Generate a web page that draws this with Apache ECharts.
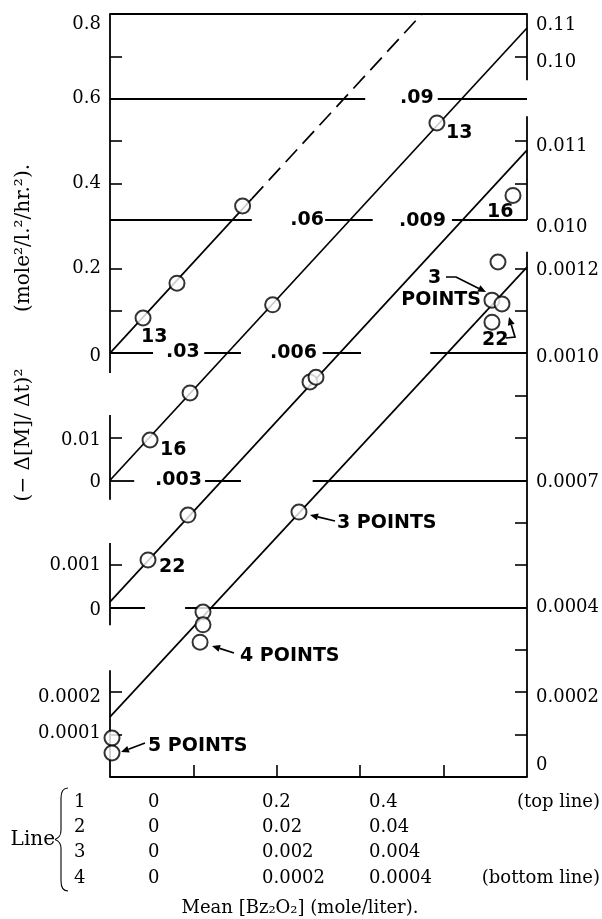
<!DOCTYPE html>
<html><head><meta charset="utf-8">
<script src="https://cdn.jsdelivr.net/npm/echarts@6/dist/echarts.min.js"></script>
<style>html,body{margin:0;padding:0;background:#fff}#c{width:602px;height:919px}</style>
</head><body><div id="c"></div>
<script>
// ---------------- DATA (x in line-1 units of mean [Bz2O2]) ----------------
const xTicks = [0.1, 0.2, 0.3, 0.4];

// Line 1 (top line), rate in (mole²/l.²/hr.²)
const line1Fit    = [[0, 0], [0.170, 0.364]];
const line1Extrap = [[0.170, 0.364], [0.374, 0.8]];
const line1Pts    = [[0.0396, 0.0828], [0.0803, 0.165], [0.159, 0.347]];

// Line 2
const line2Fit = [[0, 0], [0.5, 0.1067]];
const line2Pts = [[0.048, 0.0095], [0.096, 0.0206], [0.195, 0.0414], [0.392, 0.0843]];

// Line 3
const line3Fit = [[0, 0.00013], [0.5, 0.01079]];
const line3Pts = [[0.0456, 0.00112], [0.0935, 0.00218], [0.2398, 0.00532], [0.247, 0.00543], [0.4832, 0.00972]];

// Line 4 (bottom line)
const line4Fit = [[0, 0.000142], [0.5, 0.001203]];
const line4Pts = [[0.0024, 0.000092], [0.0024, 0.0000566], [0.1115, 0.000389], [0.1115, 0.000359], [0.108, 0.000318],
                  [0.2266, 0.000625], [0.4652, 0.001215], [0.458, 0.001125], [0.470, 0.001116], [0.458, 0.001073]];

// axis ranges of the four stacked scales
const L1 = [-1.0, 0.8], L2 = [-0.07, 0.11], L3 = [-0.004, 0.014], L4 = [0, 0.0018];

// tick values and tick labels
const l1LeftTicks = [0.1, 0.2, 0.4, 0.5, 0.7];
const l1LeftLabelAt = [0.775, 0.6, 0.4, 0.2, -0.008];
const l1LeftLabels = ['0.8', '0.6', '0.4', '0.2', '0'];
const l2LeftTicks = [0.01];
const l2LeftLabelAt = [0.0094, -0.0004];
const l2LeftLabels = ['0.01', '0'];
const l3LeftTicks = [0.001];
const l3LeftLabelAt = [0.00100, -0.00007];
const l3LeftLabels = ['0.001', '0'];
const l4LeftTicks = [0.0001, 0.0002];
const l4LeftLabelAt = [0.000189, 0.000104];
const l4LeftLabels = ['0.0002', '0.0001'];
const l2RightTicks = [0.10];
const l2RightLabelAt = [0.1074, 0.0987];
const l2RightLabels = ['0.11', '0.10'];
const l3RightTicks = [0.010, 0.011];
const l3RightLabelAt = [0.01089, 0.00897];
const l3RightLabels = ['0.011', '0.010'];
const l4RightTicks = [0.0001, 0.0002, 0.0003, 0.0005, 0.0006, 0.0008, 0.0009, 0.0011, 0.0012];
const l4RightLabelAt = [0.001196, 0.00099, 0.000696, 0.0004, 0.000189, 0.000028];
const l4RightLabels = ['0.0012', '0.0010', '0.0007', '0.0004', '0.0002', '0'];

// in-plot reference lines: value on a scale and the x extents of its pieces
const ref2 = [[0.09, [[0, 0.306], [0.393, 0.5]]],
              [0.0614, [[0, 0.170], [0.258, 0.315], [0.410, 0.5]]],
              [0.03, [[0, 0.0516], [0.113, 0.157], [0.255, 0.301], [0.384, 0.5]]]];
const ref3 = [[0.003, [[0, 0.029], [0.114, 0.157], [0.243, 0.5]]]];
const ref4 = [[0.0004, [[0, 0.042], [0.090, 0.5]]]];

// broken frame: [x, yFrom, yTo] on each scale
const frame1 = [[0, 0.8, -0.047]];
const frame2 = [[0, 0.0154, -0.0046], [0.5, 0.11, 0.0944]];
const frame3 = [[0, 0.00152, -0.00042], [0.5, 0.01159, 0.00914]];
const frame4 = [[0, 0.000252, 0], [0.5, 0.001239, 0]];

// table under the chart
const tableRows = [['1', '0', '0.2', '0.4', '(top line)'],
                   ['2', '0', '0.02', '0.04', ''],
                   ['3', '0', '0.002', '0.004', ''],
                   ['4', '0', '0.0002', '0.0004', '(bottom line)']];

// ---------------- CHART ----------------
const BLACK = '#000';
const serif = '"DejaVu Serif", serif';
const sans = '"DejaVu Sans", sans-serif';

function nearestLabel(at, labels) {
  return function (v) {
    let bi = 0, bd = Infinity;
    at.forEach((a, i) => { const d = Math.abs(a - v); if (d < bd) { bd = d; bi = i; } });
    return labels[bi];
  };
}
function yAx(range, pos, ticks, labelAt, labels) {
  return {
    type: 'value', position: pos, min: range[0], max: range[1], offset: 0,
    axisLine: { show: false }, splitLine: { show: false },
    axisTick: { show: true, inside: true, length: 12, customValues: ticks, lineStyle: { color: BLACK, width: 1.6 } },
    axisLabel: { show: true, customValues: labelAt, formatter: nearestLabel(labelAt, labels), margin: 9,
      fontFamily: serif, fontSize: 18, color: '#000', verticalAlign: 'middle' }
  };
}
function segMarks(refs, frames) {
  const d = [];
  refs.forEach(([y, segs]) => segs.forEach(([a, b]) => d.push([{ coord: [a, y] }, { coord: [b, y] }])));
  frames.forEach(([x, a, b]) => d.push([{ coord: [x, a] }, { coord: [x, b] }]));
  return { silent: true, symbol: ['none', 'none'], label: { show: false }, animation: false,
    lineStyle: { color: BLACK, width: 1.8, type: 'solid' }, emphasis: { disabled: true }, data: d };
}
function lineS(data, yi, mark, dashed) {
  const s = { type: 'line', data: data, yAxisIndex: yi, symbol: 'none', z: 2, silent: true, animation: false,
    lineStyle: { color: BLACK, width: 1.7, type: dashed ? [17, 8] : 'solid' } };
  if (mark) s.markLine = mark;
  return s;
}
function ptsS(data, yi) {
  return { type: 'scatter', data: data, yAxisIndex: yi, symbol: 'circle', symbolSize: 15, z: 5, clip: false,
    silent: true, animation: false, itemStyle: { color: '#fff', borderColor: BLACK, borderWidth: 2 } };
}

// annotation helpers (pixel layout)
function txt(x, y, t, align, font, rot) {
  const o = { type: 'text', x: x, y: y, z: 100, silent: true,
    style: { text: t, font: font || ('bold 19px ' + sans), fill: BLACK, align: align || 'left', verticalAlign: 'middle' } };
  if (rot) o.rotation = rot;
  return o;
}
function arrow(pts) {
  const [x2, y2] = pts[pts.length - 1], [x1, y1] = pts[pts.length - 2];
  const ang = Math.atan2(y2 - y1, x2 - x1), L = 8, W = 3.5;
  const bx = x2 - L * Math.cos(ang), by = y2 - L * Math.sin(ang);
  const nx = -Math.sin(ang) * W, ny = Math.cos(ang) * W;
  const body = pts.slice(0, -1).concat([[bx, by]]);
  return [
    { type: 'polyline', z: 100, silent: true, shape: { points: body }, style: { stroke: BLACK, lineWidth: 1.7, fill: null } },
    { type: 'polygon', z: 100, silent: true, shape: { points: [[x2, y2], [bx + nx, by + ny], [bx - nx, by - ny]] }, style: { fill: BLACK } }
  ];
}
function bez(x1, y1, cx1, cy1, cx2, cy2, x2, y2) {
  return { type: 'bezierCurve', z: 100, silent: true,
    shape: { x1: x1, y1: y1, x2: x2, y2: y2, cpx1: cx1, cpy1: cy1, cpx2: cx2, cpy2: cy2 },
    style: { stroke: BLACK, lineWidth: 1.1, fill: null } };
}
function seg(x1, y1, x2, y2) {
  return { type: 'line', z: 100, silent: true, shape: { x1: x1, y1: y1, x2: x2, y2: y2 },
    style: { stroke: BLACK, lineWidth: 1.1 } };
}

const graphics = [
  txt(400, 98, '.09'), txt(324, 220, '.06', 'right'), txt(399, 221, '.009'),
  txt(166, 352, '.03'), txt(270, 353, '.006'), txt(155, 480, '.003'),
  txt(141, 337, '13'), txt(160, 450, '16'), txt(159, 567, '22'),
  txt(446, 133, '13'), txt(487, 212, '16'),
  txt(337, 523, '3 POINTS'), txt(240, 656, '4 POINTS'), txt(148, 746, '5 POINTS'),
  txt(428, 278, '3'), txt(481, 300, 'POINTS', 'right'), txt(482, 340, '22'),
  ...arrow([[335, 521], [310, 515]]),
  ...arrow([[234, 653], [212, 646]]),
  ...arrow([[145, 743], [121, 752]]),
  ...arrow([[446, 277], [456, 277], [486, 292]]),
  ...arrow([[506, 338], [515, 337], [509, 317]]),
  txt(24, 238, '(mole²/l.²/hr.²).', 'center', '20px ' + serif, Math.PI / 2),
  txt(24, 435, '(− Δ[M]/ Δt)²', 'center', '20px ' + serif, Math.PI / 2),
  txt(55, 840, 'Line', 'right', '20px ' + serif),
  bez(68, 788, 63, 788, 61, 791, 61, 798),
  seg(61, 798, 61, 830),
  bez(61, 830, 61, 836, 59, 838, 55, 839.5),
  bez(55, 839.5, 59, 841, 61, 843, 61, 849),
  seg(61, 849, 61, 881),
  bez(61, 881, 61, 888, 63, 891, 68, 891),
  txt(300, 908, 'Mean [Bz₂O₂] (mole/liter).', 'center', '18px ' + serif)
];
const colX = [74, 148, 262, 369];
const rowY = [802, 827, 852, 878];
tableRows.forEach((r, i) => {
  for (let j = 0; j < 4; j++) graphics.push(txt(colX[j], rowY[i], r[j], 'left', '18px ' + serif));
  if (r[4]) graphics.push(txt(600, rowY[i], r[4], 'right', '18px ' + serif));
});

const chart = echarts.init(document.getElementById('c'), null, { renderer: 'canvas' });
chart.setOption({
  animation: false,
  backgroundColor: '#fff',
  grid: { left: 110, right: 75, top: 14, bottom: 142, containLabel: false, outerBoundsMode: 'none' },
  xAxis: [
    { type: 'value', min: 0, max: 0.5, position: 'bottom',
      axisLine: { show: true, onZero: false, lineStyle: { color: BLACK, width: 1.8 } },
      axisTick: { show: true, inside: true, length: 12, customValues: xTicks, lineStyle: { color: BLACK, width: 1.6 } },
      axisLabel: { show: false }, splitLine: { show: false } },
    { type: 'value', min: 0, max: 0.5, position: 'top',
      axisLine: { show: true, onZero: false, lineStyle: { color: BLACK, width: 1.8 } },
      axisTick: { show: false }, axisLabel: { show: false }, splitLine: { show: false } }
  ],
  yAxis: [
    yAx(L1, 'left', l1LeftTicks, l1LeftLabelAt, l1LeftLabels),
    yAx(L2, 'left', l2LeftTicks, l2LeftLabelAt, l2LeftLabels),
    yAx(L3, 'left', l3LeftTicks, l3LeftLabelAt, l3LeftLabels),
    yAx(L4, 'left', l4LeftTicks, l4LeftLabelAt, l4LeftLabels),
    yAx(L2, 'right', l2RightTicks, l2RightLabelAt, l2RightLabels),
    yAx(L3, 'right', l3RightTicks, l3RightLabelAt, l3RightLabels),
    yAx(L4, 'right', l4RightTicks, l4RightLabelAt, l4RightLabels)
  ],
  series: [
    lineS(line1Fit, 0, segMarks([], frame1)),
    lineS(line1Extrap, 0, null, true),
    ptsS(line1Pts, 0),
    lineS(line2Fit, 1, segMarks(ref2, frame2)),
    ptsS(line2Pts, 1),
    lineS(line3Fit, 2, segMarks(ref3, frame3)),
    ptsS(line3Pts, 2),
    lineS(line4Fit, 3, segMarks(ref4, frame4)),
    ptsS(line4Pts, 3)
  ],
  graphic: graphics
});
</script></body></html>
